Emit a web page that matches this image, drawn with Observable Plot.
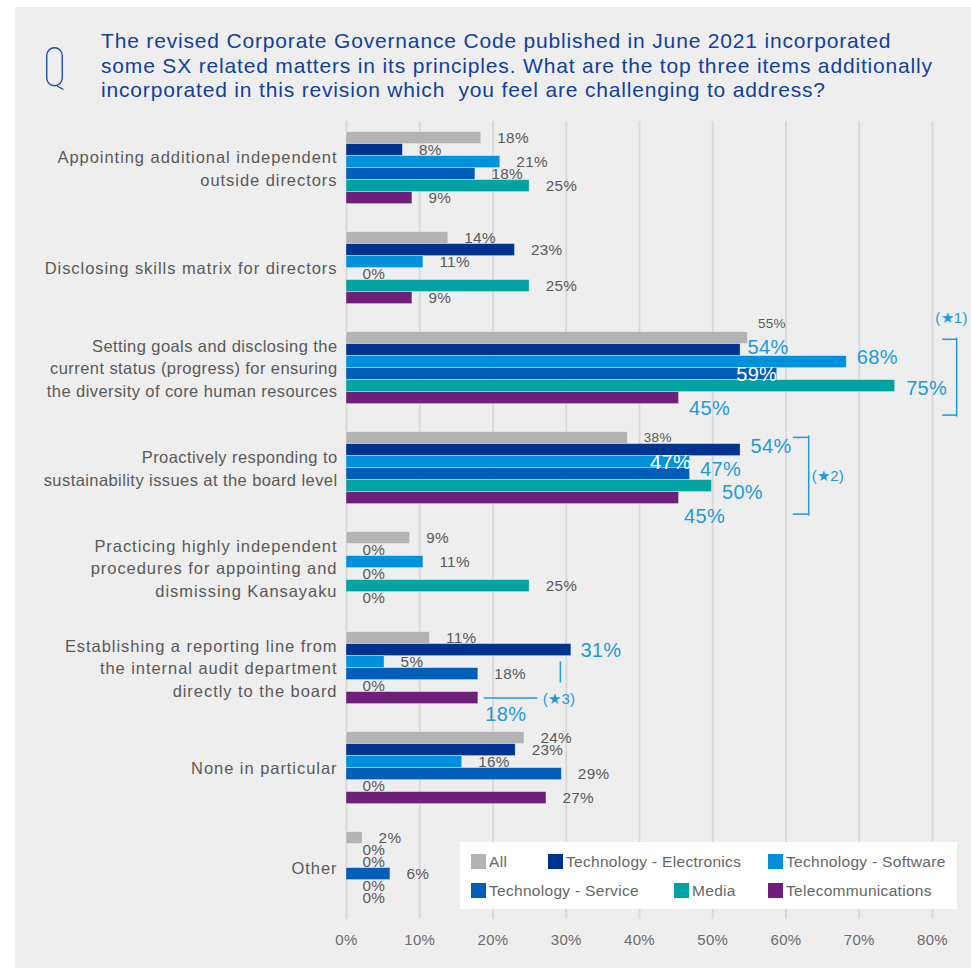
<!DOCTYPE html>
<html><head><meta charset="utf-8">
<script src="https://cdn.jsdelivr.net/npm/d3@7"></script>
<script src="https://cdn.jsdelivr.net/npm/@observablehq/plot@0.6"></script>
<style>
html,body{margin:0;padding:0;background:#fff;}
#wrap{position:relative;width:971px;height:968px;overflow:hidden;font-family:"Liberation Sans",Arial,sans-serif;}
#panel{position:absolute;left:15px;top:7px;right:0;bottom:0;background:#eeeeee;}
#title{position:absolute;left:101px;top:29px;font-size:21px;line-height:24.7px;letter-spacing:0.83px;color:#12409a;white-space:pre;}
#q{position:absolute;left:44px;top:45px;}
.plot{position:absolute;left:0;top:0;}
#fg text{letter-spacing:0.3px;}
#bg text{letter-spacing:0.3px;}
#legend{position:absolute;left:460px;top:842px;width:497px;height:67px;background:#fff;}
.li{position:absolute;height:15px;font-size:15.5px;letter-spacing:0.3px;color:#666;display:flex;align-items:center;white-space:nowrap;}
.sw{width:15px;height:15px;margin-right:3px;flex:none;}
</style></head><body>
<div id="wrap">
  <div id="panel"></div>
  <svg id="q" width="24" height="48" aria-label="Q">
    <rect x="2.75" y="2.75" width="15.5" height="38" rx="7.75" fill="none" stroke="#1d4ea5" stroke-width="1.4"/>
    <path d="M13 41 L19.5 44.5" fill="none" stroke="#1d4ea5" stroke-width="1.4"/>
  </svg>
  <div id="title"></div>
  <div id="bg" class="plot"></div>
  <div id="fg" class="plot"></div>
  <div id="legend"></div>
</div>
<script>
// ---------- data ----------
const titleLines = [
  "The revised Corporate Governance Code published in June 2021 incorporated",
  "some SX related matters in its principles. What are the top three items additionally",
  "incorporated in this revision which  you feel are challenging to address?"
];
const categories = [
  "Appointing additional independent outside directors",
  "Disclosing skills matrix for directors",
  "Setting goals and disclosing the current status (progress) for ensuring the diversity of core human resources",
  "Proactively responding to sustainability issues at the board level",
  "Practicing highly independent procedures for appointing and dismissing Kansayaku",
  "Establishing a reporting line from the internal audit department directly to the board",
  "None in particular",
  "Other"
];
const categoryLabels = [
  "Appointing additional independent\noutside directors",
  "Disclosing skills matrix for directors",
  "Setting goals and disclosing the\ncurrent status (progress) for ensuring\nthe diversity of core human resources",
  "Proactively responding to\nsustainability issues at the board level",
  "Practicing highly independent\nprocedures for appointing and\ndismissing Kansayaku",
  "Establishing a reporting line from\nthe internal audit department\ndirectly to the board",
  "None in particular",
  "Other"
];
const series = ["All", "Technology - Electronics", "Technology - Software", "Technology - Service", "Media", "Telecommunications"];
const seriesColors = ["#b3b3b3", "#00338d", "#0091da", "#005eb8", "#00a3a1", "#6d2077"];
const valuesAll         = [18.4, 13.9, 54.8, 38.4, 8.7, 11.4, 24.3, 2.2];
const valuesElectronics = [7.7, 23.0, 53.8, 53.8, 0, 30.7, 23.1, 0];
const valuesSoftware    = [21.0, 10.5, 68.3, 46.9, 10.5, 5.2, 15.8, 0];
const valuesService     = [17.6, 0, 58.8, 46.9, 0, 18.0, 29.4, 6.0];
const valuesMedia       = [25.0, 25.0, 74.9, 49.9, 25.0, 0, 0, 0];
const valuesTelecom     = [9.0, 9.0, 45.4, 45.4, 0, 18.0, 27.3, 0];
const xTicks = [0, 10, 20, 30, 40, 50, 60, 70, 80];

// ---------- annotation config (label styling / brackets) ----------
const BLUE = "#1e9ad8";
const labelHighlights = [
  {c: 2, s: "All", tone: "small", dx: 10, dy: -14},
  {c: 2, s: "Technology - Electronics", tone: "blue", dx: 7, dy: -3},
  {c: 2, s: "Technology - Software", tone: "blue", dx: 10, dy: -4.5},
  {c: 2, s: "Technology - Service", tone: "white", dx: 0, dy: 0},
  {c: 2, s: "Media", tone: "blue", dx: 11, dy: 2},
  {c: 2, s: "Telecommunications", tone: "blue", dx: 10, dy: 10},
  {c: 3, s: "All", tone: "small", dx: 16, dy: 0},
  {c: 3, s: "Technology - Electronics", tone: "blue", dx: 10, dy: -3.5},
  {c: 3, s: "Technology - Software", tone: "white", dx: 1, dy: 0.5},
  {c: 3, s: "Technology - Service", tone: "blue", dx: 10, dy: -5},
  {c: 3, s: "Media", tone: "blue", dx: 10, dy: 6.5},
  {c: 3, s: "Telecommunications", tone: "blue", dx: 5, dy: 18.5},
  {c: 5, s: "Technology - Electronics", tone: "blue", dx: 9, dy: 0},
  {c: 5, s: "Telecommunications", tone: "blue", dx: 7, dy: 16}
];
const brackets = [
  {c: 2, x: 83.3, tickX: 81.4, insetTop: 8.4, insetBottom: -10.6,
   top: "Technology - Electronics", topDy: -10.8, bottom: "Telecommunications", bottomDy: 17,
   label: "(★1)", labelX: 82.6, labelS: "All", labelDy: -20, anchor: "middle"},
  {c: 3, x: 63.1, tickX: 61.0, insetTop: 6.5, insetBottom: -9.7,
   top: "Technology - Electronics", topDy: -12.7, bottom: "Telecommunications", bottomDy: 16,
   label: "(★2)", labelX: 63.5, labelS: "Technology - Service", labelDy: 2, anchor: "start"},
  {c: 5, x: 29.2, insetTop: 32.3, insetBottom: 23.5,
   hline: {s: "Telecommunications", x1: 18.8, x2: 26.1},
   label: "(★3)", labelX: 26.8, labelS: "Telecommunications", labelDy: 1, anchor: "start"}
];
// categories whose labels are set with tighter tracking in the reference
const tightLabelCategories = [2, 3];

// ---------- build table ----------
const seriesValues = [valuesAll, valuesElectronics, valuesSoftware, valuesService, valuesMedia, valuesTelecom];
const rows = [];
categories.forEach((cat, ci) => {
  series.forEach((s, si) => {
    const hl = labelHighlights.some(h => h.c === ci && h.s === s);
    rows.push({category: cat, ci, series: s, value: seriesValues[si][ci], label: Math.round(seriesValues[si][ci]) + "%", hl});
  });
});

const FONT = '"Liberation Sans", Arial, sans-serif';
document.getElementById("title").textContent = titleLines.join("\n");

// ---------- background: grid + x axis ----------
const bg = Plot.plot({
  width: 971, height: 968,
  marginLeft: 346, marginRight: 39, marginTop: 121, marginBottom: 49,
  style: {background: "transparent", fontFamily: FONT, fontSize: "15px", color: "#6b6b6b", overflow: "visible"},
  x: {domain: [0, 80], ticks: xTicks, tickFormat: d => d + "%", tickSize: 0, tickPadding: 15, label: null},
  marks: [
    Plot.ruleX(xTicks, {stroke: "#d9d9d9", strokeWidth: 2})
  ]
});
document.getElementById("bg").appendChild(bg);

// ---------- foreground: bars + labels ----------
const toneFill = {blue: BLUE, white: "#ffffff", small: "#595959"};
const toneSize = {blue: 20, white: 20, small: 13.5};
const highlightMarks = labelHighlights.map(h => Plot.text(rows, {
  filter: d => d.ci === h.c && d.series === h.s,
  x: "value", y: "series", text: "label",
  dx: h.dx, dy: h.dy,
  textAnchor: h.tone === "white" ? "end" : "start",
  fill: toneFill[h.tone], fontSize: toneSize[h.tone]
}));
const bracketMarks = brackets.flatMap(b => {
  const one = d => d.ci === b.c && d.series === series[0];
  const m = [
    Plot.ruleX(rows, {filter: one, x: () => b.x, stroke: BLUE, strokeWidth: 1.5, insetTop: b.insetTop, insetBottom: b.insetBottom}),
    Plot.text(rows, {filter: d => d.ci === b.c && d.series === b.labelS, x: () => b.labelX, y: "series", text: () => b.label,
      dy: b.labelDy, textAnchor: b.anchor, fill: BLUE, fontSize: 15})
  ];
  if (b.top) {
    m.push(Plot.ruleY(rows, {filter: d => d.ci === b.c && d.series === b.top, y: "series", x1: () => b.tickX, x2: () => b.x, dy: b.topDy, stroke: BLUE, strokeWidth: 1.5}));
    m.push(Plot.ruleY(rows, {filter: d => d.ci === b.c && d.series === b.bottom, y: "series", x1: () => b.tickX, x2: () => b.x, dy: b.bottomDy, stroke: BLUE, strokeWidth: 1.5}));
  }
  if (b.hline) {
    m.push(Plot.ruleY(rows, {filter: d => d.ci === b.c && d.series === b.hline.s, y: "series", x1: () => b.hline.x1, x2: () => b.hline.x2, stroke: BLUE, strokeWidth: 1.5}));
  }
  return m;
});

const fg = Plot.plot({
  width: 971, height: 968,
  marginLeft: 346, marginRight: 39, marginTop: 116.4, marginBottom: 49.2,
  style: {background: "transparent", fontFamily: FONT, fontSize: "15px", overflow: "visible"},
  x: {domain: [0, 80], axis: null},
  y: {domain: series, axis: null, padding: 0, paddingInner: 0, paddingOuter: 0},
  fy: {domain: categories, axis: null, paddingInner: 0.2325, paddingOuter: 0.11625},
  color: {domain: series, range: seriesColors},
  facet: {data: rows, y: "category"},
  marks: [
    Plot.barX(rows, {x: "value", y: "series", fill: "series", stroke: "#ffffff", strokeOpacity: 0.45, strokeWidth: 0.8}),
    Plot.text(rows, {filter: d => !d.hl, x: "value", y: "series", text: "label", dx: 16, dy: 0,
      textAnchor: "start", fill: "#595959", fontSize: 15.3}),
    ...highlightMarks,
    ...bracketMarks,
    Plot.text(rows, {filter: d => d.series === series[0], text: d => categoryLabels[d.ci],
      frameAnchor: "left", textAnchor: "end", dx: -9, dy: -1, fill: "#595959", fontSize: 16.5, lineHeight: 1.37})
  ]
});
document.getElementById("fg").appendChild(fg);

// tracking for the category labels, as in the reference typeface
const catIndex = new Map(categoryLabels.map((l, i) => [l.replace(/\n/g, ""), i]));
d3.select(fg).selectAll("text").filter(function() { return catIndex.has(this.textContent); })
  .style("letter-spacing", function() {
    return tightLabelCategories.includes(catIndex.get(this.textContent)) ? "0.42px" : "0.95px";
  });

// ---------- legend ----------
const legendPos = [[11, 12], [88, 12], [308, 12], [11, 41], [214, 41], [308, 41]];
const legend = document.getElementById("legend");
series.forEach((s, i) => {
  const item = document.createElement("div");
  item.className = "li";
  item.style.left = legendPos[i][0] + "px";
  item.style.top = legendPos[i][1] + "px";
  item.innerHTML = `<span class="sw" style="background:${seriesColors[i]}"></span><span>${s}</span>`;
  legend.appendChild(item);
});
</script>
</body></html>
